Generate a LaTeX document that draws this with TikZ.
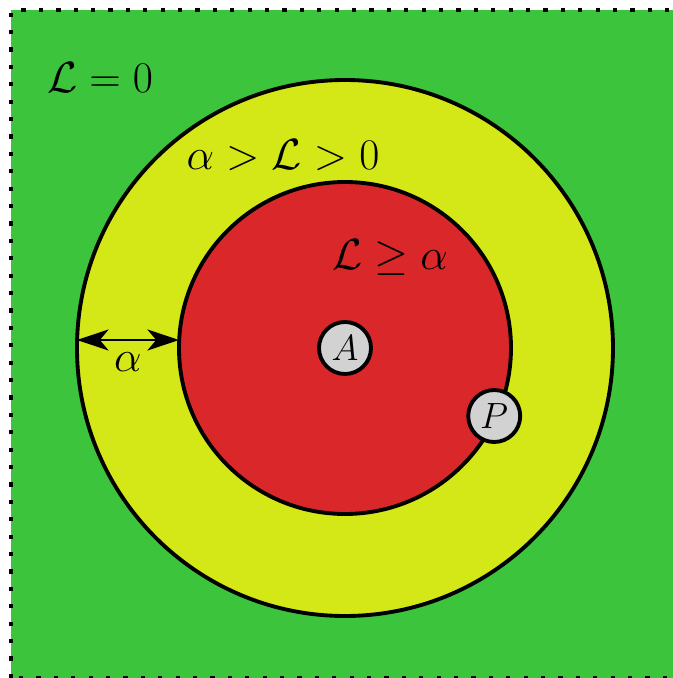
\documentclass[tikz,border=0pt]{standalone}
\usetikzlibrary{arrows.meta}
\definecolor{zonegreen}{RGB}{60,196,60}
\definecolor{zoneyellow}{RGB}{212,232,24}
\definecolor{zonered}{RGB}{218,40,42}
\begin{document}
\begin{tikzpicture}[
  zone/.style={draw, line width=2.2pt, fill=#1},
  agent/.style={circle, draw, line width=2.2pt, fill=gray!35,
                minimum size=1.04cm, inner sep=0pt, font=\huge},
  lbl/.style={font=\Huge},
  gap/.style={{Stealth[length=18pt,width=12pt,inset=5pt]}-{Stealth[length=18pt,width=12pt,inset=5pt]}, line width=1.3pt}
]
  \clip (-6.9,-6.6) rectangle (6.56,6.96);
  % field
  \fill[zonegreen] (-6.68,-6.6) rectangle (6.7,6.76);
  \draw[line width=2.4pt, dash pattern=on 2.4pt off 7.5pt]
        (-6.68,-6.6) rectangle (6.7,6.76);
  % zones
  \draw[zone=zoneyellow] (0,0) circle (5.36);
  \draw[zone=zonered]    (0,0) circle (3.32);
  \coordinate (outL) at (-5.36,0.16);
  \coordinate (inL)  at (-3.32,0.16);
  \draw[gap] (outL) -- node[below=3pt, font=\Huge]{$\alpha$} (inL);
  % labels
  \node[lbl] (l0) at (-4.9,5.4)  {$\mathcal{L}=0$};
  \node[lbl] (l1) at (-1.24,3.86) {$\alpha>\mathcal{L}>0$};
  \node[lbl] (l2) at (0.9,1.8)   {$\mathcal{L}\geq\alpha$};
  % agents
  \node[agent] (A) at (0,0) {$A$};
  \node[agent] (P) at (-24.5:3.28) {$P$};
\end{tikzpicture}
\end{document}
